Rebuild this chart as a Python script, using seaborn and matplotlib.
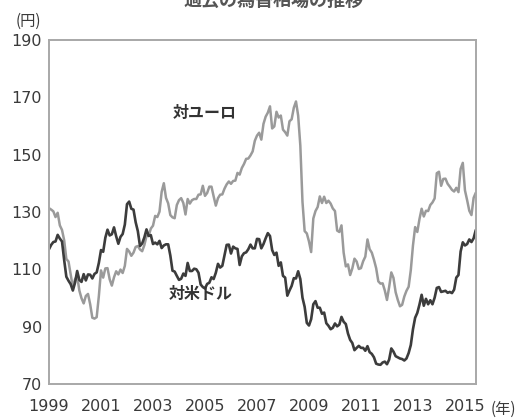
import numpy as np
import pandas as pd
import seaborn as sns
import matplotlib.pyplot as plt

# monthly averages, Jan 1999 - Jun 2015 (yen)
usd = [117.0, 118.5, 119.5, 119.7, 122.0, 120.7, 119.7, 113.2, 107.4, 106.0, 104.8, 102.6,
       105.3, 109.4, 106.3, 105.6, 108.3, 106.1, 108.2, 108.1, 106.8, 108.4, 108.9, 112.2,
       116.7, 116.1, 121.0, 123.8, 121.8, 122.2, 124.6, 121.5, 118.9, 121.3, 122.3, 125.6,
       132.7, 133.6, 131.1, 130.8, 126.4, 123.3, 118.1, 119.0, 121.1, 123.9, 121.6, 121.9,
       118.8, 119.3, 118.7, 119.9, 117.4, 118.3, 118.7, 118.7, 114.8, 109.5, 109.2, 107.7,
       106.3, 106.7, 108.5, 107.7, 112.2, 109.4, 109.4, 110.2, 110.0, 108.8, 104.7, 103.8,
       103.3, 104.9, 105.3, 107.2, 106.6, 108.8, 111.9, 110.6, 111.2, 114.9, 118.5, 118.6,
       115.5, 117.9, 117.3, 117.1, 111.5, 114.5, 115.6, 115.9, 117.0, 118.6, 117.3, 117.3,
       120.6, 120.5, 117.3, 118.8, 120.8, 122.6, 121.6, 116.7, 115.0, 115.8, 111.2, 112.4,
       107.7, 107.1, 100.8, 102.6, 104.2, 106.9, 106.8, 109.3, 106.6, 100.1, 96.9, 91.3,
       90.4, 92.6, 97.8, 98.9, 96.6, 96.6, 94.5, 94.9, 91.2, 90.3, 89.1, 89.6,
       91.1, 90.1, 90.7, 93.4, 91.7, 90.9, 87.6, 85.4, 84.3, 81.8, 82.6, 83.3,
       82.6, 82.6, 81.6, 83.2, 81.1, 80.5, 79.3, 77.1, 76.8, 76.7, 77.5, 77.8,
       76.9, 78.5, 82.4, 81.3, 79.7, 79.3, 78.9, 78.7, 78.2, 78.9, 80.8, 83.6,
       89.1, 93.1, 94.8, 97.7, 101.1, 97.3, 99.7, 97.8, 99.2, 97.8, 100.1, 103.5,
       103.8, 102.1, 102.3, 102.5, 101.8, 102.1, 101.7, 102.9, 107.1, 108.0, 116.2, 119.4,
       118.3, 118.8, 120.4, 119.5, 120.8, 123.7]

eur = [131.3, 130.8, 130.2, 128.2, 129.7, 125.3, 123.7, 120.1, 113.6, 112.7, 108.3, 103.7,
       106.5, 107.6, 102.6, 99.9, 98.1, 100.7, 101.4, 97.8, 93.1, 92.8, 93.3, 100.6,
       109.6, 107.1, 110.3, 110.4, 106.5, 104.3, 107.2, 109.3, 108.2, 109.9, 108.7, 111.2,
       117.1, 116.2, 114.7, 115.8, 117.8, 118.1, 116.9, 116.3, 118.4, 121.6, 121.7, 124.2,
       125.2, 128.6, 128.2, 130.1, 137.0, 140.0, 134.9, 133.0, 128.9, 128.1, 127.8, 132.4,
       134.1, 134.8, 133.1, 129.1, 134.5, 132.9, 134.1, 134.5, 134.5, 136.0, 136.1, 139.1,
       135.6, 136.6, 138.8, 138.8, 135.4, 132.2, 134.8, 136.0, 136.1, 138.1, 139.6, 140.6,
       139.8, 140.8, 140.9, 143.6, 143.0, 145.3, 146.7, 148.5, 148.6, 149.7, 151.1, 154.8,
       156.6, 157.6, 155.2, 160.7, 163.2, 164.6, 166.8, 159.1, 159.8, 164.9, 162.9, 163.6,
       158.7, 157.8, 156.6, 161.6, 162.3, 166.3, 168.5, 163.6, 153.2, 133.5, 123.3, 122.5,
       119.7, 116.0, 127.7, 130.3, 131.7, 135.4, 133.1, 135.3, 133.1, 133.9, 132.9, 131.2,
       130.3, 123.5, 123.0, 125.3, 115.8, 111.0, 111.7, 108.0, 110.3, 113.7, 112.7, 110.1,
       110.4, 112.8, 114.4, 120.4, 117.0, 115.8, 113.3, 110.4, 105.8, 105.0, 105.1, 102.6,
       99.3, 103.8, 108.9, 107.0, 102.0, 99.3, 97.1, 97.6, 100.5, 102.5, 103.9, 109.7,
       118.3, 124.7, 123.0, 127.5, 131.1, 128.4, 130.4, 130.3, 132.4, 133.3, 134.7, 143.5,
       144.0, 139.1, 141.5, 141.6, 139.8, 138.8, 137.7, 137.1, 138.4, 136.9, 145.0, 147.1,
       137.5, 134.1, 130.4, 128.9, 134.9, 136.7]

year_ticks = [1999, 2001, 2003, 2005, 2007, 2009, 2011, 2013, 2015]
yen_ticks = [70, 90, 110, 130, 150, 170, 190]

df = pd.DataFrame({"t": 1999 + np.arange(len(usd)) / 12, "usd": usd, "eur": eur})

sns.set_style("white")
plt.rcParams['font.family'] = ['Noto Sans CJK JP', 'DejaVu Sans']

fig = plt.figure(figsize=(5.27, 4.19), dpi=100)
ax = fig.add_axes([0.093, 0.0835, 0.81, 0.8215])

sns.lineplot(data=df, x="t", y="eur", ax=ax, color="#9a9a9a", linewidth=1.8)
sns.lineplot(data=df, x="t", y="usd", ax=ax, color="#3c3c3c", linewidth=1.9)

ax.set_xlim(1999, 2015.42)
ax.set_ylim(70, 190)
ax.set_xticks(year_ticks)
ax.set_xticklabels([str(y) for y in year_ticks])
ax.set_yticks(yen_ticks)
ax.set_xlabel("")
ax.set_ylabel("")
for s in ax.spines.values():
    s.set_color("#a8a8a8")
    s.set_linewidth(1.4)
ax.tick_params(axis="both", direction="in", length=5, width=1, color="#a8a8a8",
               labelsize=11.5, labelcolor="#3a3a3a")
ax.tick_params(axis="x", pad=11)
ax.tick_params(axis="y", pad=5)
for lab in ax.get_xticklabels() + ax.get_yticklabels():
    lab.set_fontfamily("DejaVu Sans")

ax.text(2005.0, 164.5, "対ユーロ", fontsize=11.5, fontweight="bold", color="#333333",
        ha="center", va="center")
ax.text(2004.85, 101.5, "対米ドル", fontsize=11.5, fontweight="bold", color="#333333",
        ha="center", va="center")

fig.text(28 / 527, 1 - 21 / 419, "(円)", fontsize=11, color="#3a3a3a", ha="center", va="center")
fig.text(503 / 527, 1 - 409 / 419, "(年)", fontsize=11, color="#3a3a3a", ha="center", va="center")
fig.text(273 / 527, 1.0, "過去の為替相場の推移", fontsize=13, fontweight="bold",
         color="#555555", ha="center", va="center")

fig.savefig("out.png", dpi=100)
